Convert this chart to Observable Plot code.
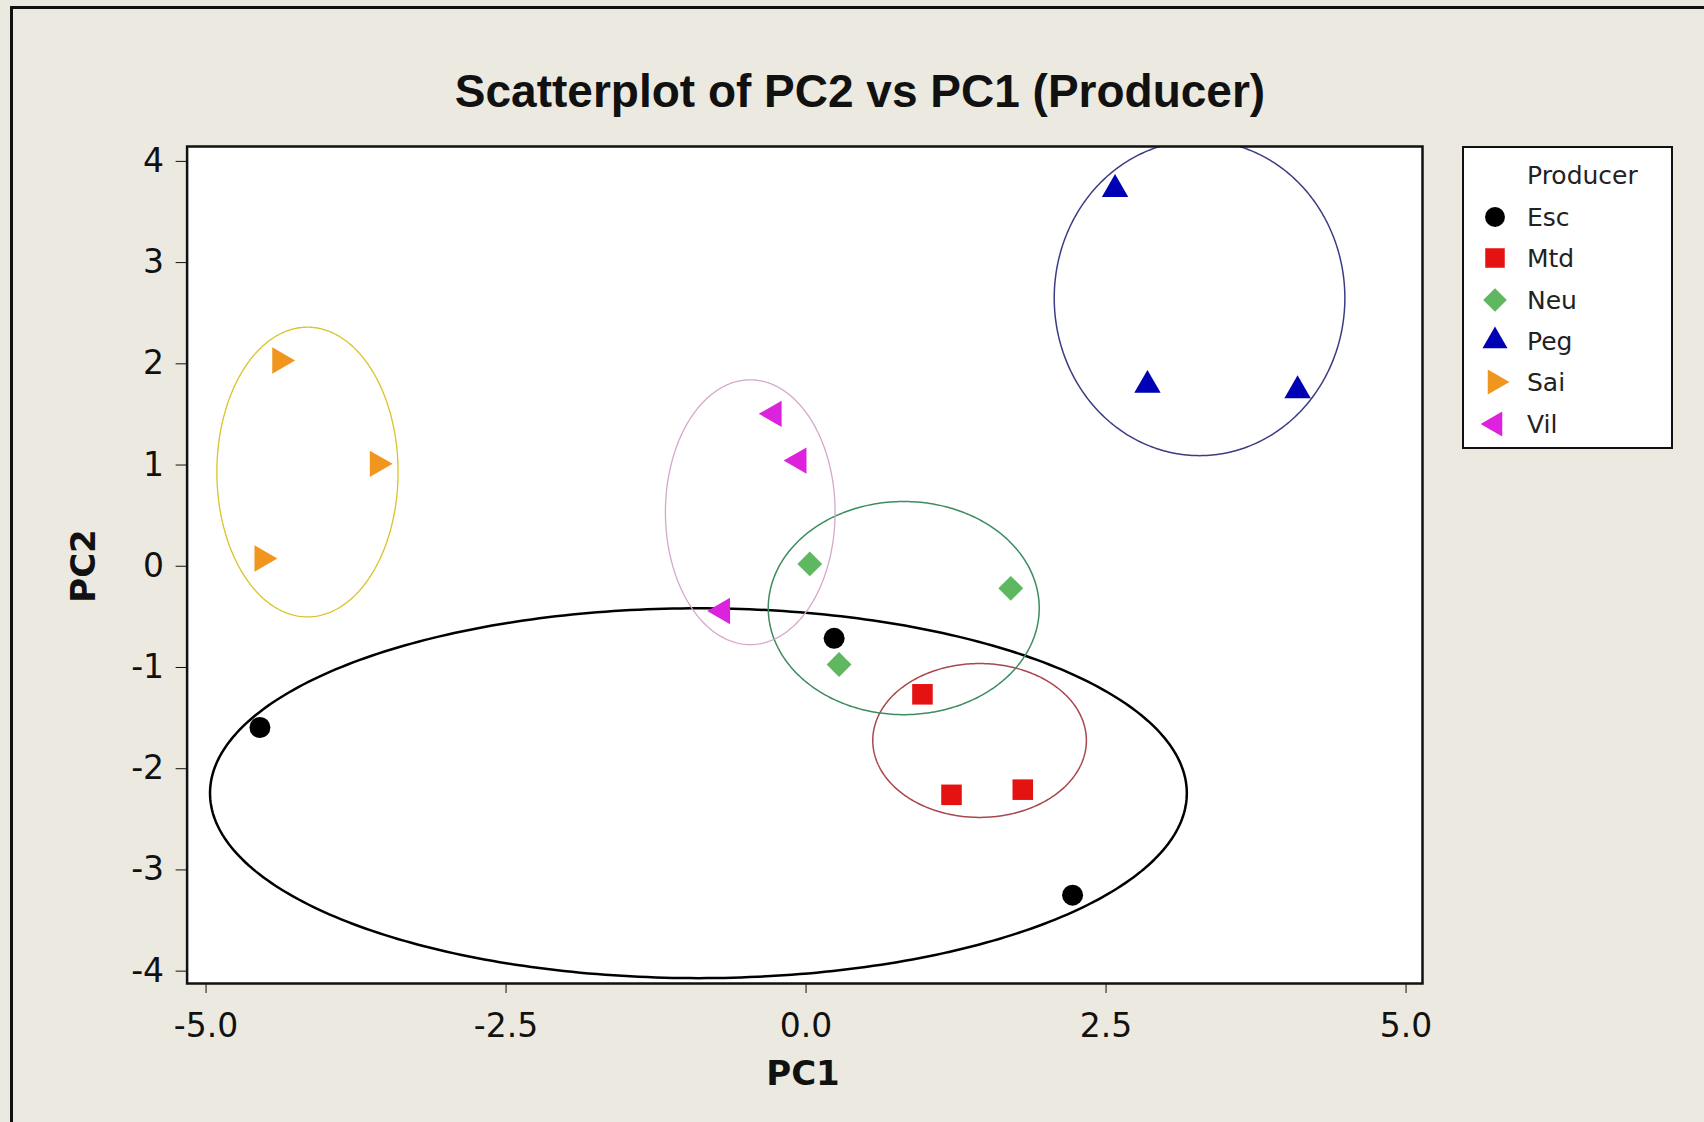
<!DOCTYPE html>
<html>
<head>
<meta charset="utf-8">
<script src="https://cdn.jsdelivr.net/npm/d3@7"></script>
<script src="https://cdn.jsdelivr.net/npm/@observablehq/plot@0.6"></script>
<style>
html, body { margin: 0; padding: 0; background: #ECE9E0; }
#wrap { position: relative; width: 1704px; height: 1122px; overflow: hidden; background: #ECE9E0; }
#wrap > svg { position: absolute; left: 0; top: 0; }
.outer { position: absolute; left: 10px; top: 6px; width: 2000px; height: 2000px; border-left: 3px solid #111; border-top: 3px solid #111; }
.title { position: absolute; left: 0; top: 68px; width: 1720px; text-align: center; font: bold 46px/46px "Liberation Sans", Arial, sans-serif; color: #111; white-space: nowrap; }
.xlabel { position: absolute; left: 603px; top: 1056px; width: 400px; text-align: center; font: bold 34px/34px "DejaVu Sans", sans-serif; color: #111; }
.ylabel { position: absolute; left: -17.5px; top: 549px; width: 200px; text-align: center; font: bold 34px/34px "DejaVu Sans", sans-serif; color: #111; transform: rotate(-90deg); transform-origin: 100px 17px; }
.legend { position: absolute; left: 1462px; top: 146px; width: 207px; height: 299px; border: 2px solid #111; background: #fff; }
.legend .head, .legend .lab { position: absolute; font: 25px/25px "DejaVu Sans", sans-serif; color: #222; white-space: nowrap; }
.legend svg { position: absolute; }
</style>
</head>
<body>
<div id="wrap"></div>
<script>
// ---- data ----
const producers = ["Esc", "Mtd", "Neu", "Peg", "Sai", "Vil"];

const pointProducer = ["Esc", "Esc", "Esc", "Mtd", "Mtd", "Mtd", "Neu", "Neu", "Neu",
                       "Peg", "Peg", "Peg", "Sai", "Sai", "Sai", "Vil", "Vil", "Vil"];
const pointPC1 = [-4.551, 0.234, 2.221, 0.970, 1.212, 1.806, 0.031, 1.706, 0.275,
                  2.575, 2.845, 4.096, -4.385, -3.572, -4.533, -0.267, -0.060, -0.697];
const pointPC2 = [-1.593, -0.712, -3.249, -1.265, -2.258, -2.207, 0.023, -0.218, -0.971,
                  3.724, 1.789, 1.736, 2.033, 1.012, 0.076, 1.506, 1.044, -0.442];

// group ellipses (centre and semi-axes in PC units)
const ellipseCX = [-0.897, 1.446, 0.814, 3.279, -4.155, -0.465];
const ellipseCY = [-2.242, -1.721, -0.413, 2.650, 0.931, 0.534];
const ellipseRX = [4.070, 0.890, 1.129, 1.211, 0.755, 0.707];
const ellipseRY = [1.827, 0.760, 1.053, 1.557, 1.431, 1.308];

const xTicks = [-5, -2.5, 0, 2.5, 5];
const yTicks = [-4, -3, -2, -1, 0, 1, 2, 3, 4];

// ---- styles ----
const pointColor = ["#000000", "#E51212", "#5FB85F", "#0000B4", "#F0961E", "#DD22DD"];
const pointSymbol = ["circle", "square", "diamond2", "triangle", "triangle", "triangle"];
const pointRotate = [0, 0, 0, 0, 90, -90];
const pointR = [10.5, 11.6, 11.2, 9.8, 9.8, 9.8];
const ellipseColor = ["#000000", "#A8484C", "#3C8C60", "#3C3C84", "#D8C428", "#D4A8CC"];
const ellipseWidth = [2.5, 1.5, 1.5, 1.5, 1.3, 1.3];

const points = pointProducer.map((p, i) => ({producer: p, pc1: pointPC1[i], pc2: pointPC2[i]}));

const angles = d3.range(0, 361, 1).map(a => a * Math.PI / 180);
const ellipses = producers.map((p, k) => angles.map(t => ({
  producer: p,
  pc1: ellipseCX[k] + ellipseRX[k] * Math.cos(t),
  pc2: ellipseCY[k] + ellipseRY[k] * Math.sin(t)
})));

const marks = [Plot.frame({fill: "white", stroke: null})];
producers.forEach((p, k) => {
  marks.push(Plot.line(ellipses[k], {x: "pc1", y: "pc2", stroke: ellipseColor[k], strokeWidth: ellipseWidth[k], clip: true}));
});
producers.forEach((p, k) => {
  marks.push(Plot.dot(points.filter(d => d.producer === p), {
    x: "pc1", y: "pc2", symbol: pointSymbol[k], r: pointR[k], rotate: pointRotate[k],
    fill: pointColor[k], stroke: "none"
  }));
});
marks.push(Plot.frame({stroke: "#111", strokeWidth: 2.5}));

const chart = Plot.plot({
  width: 1704,
  height: 1122,
  marginLeft: 186.6,
  marginRight: 1704 - 1422,
  marginTop: 146,
  marginBottom: 1122 - 983,
  style: {background: "transparent", fontFamily: "DejaVu Sans", fontSize: "33px", color: "#111", overflow: "visible"},
  x: {domain: [-5.158, 5.137], ticks: xTicks, tickFormat: d => d.toFixed(1), tickSize: 10, tickPadding: 20, label: null},
  y: {domain: [-4.122, 4.147], ticks: yTicks, tickFormat: d => String(d), tickSize: 11, tickPadding: 12, label: null},
  marks
});

const wrap = document.getElementById("wrap");
wrap.appendChild(chart);

const outer = document.createElement("div"); outer.className = "outer"; wrap.appendChild(outer);
const title = document.createElement("div"); title.className = "title";
title.textContent = "Scatterplot of PC2 vs PC1 (Producer)"; wrap.appendChild(title);
const xl = document.createElement("div"); xl.className = "xlabel"; xl.textContent = "PC1"; wrap.appendChild(xl);
const yl = document.createElement("div"); yl.className = "ylabel"; yl.textContent = "PC2"; wrap.appendChild(yl);

// legend
const legend = d3.select(wrap).append("div").attr("class", "legend");
legend.append("div").attr("class", "head").style("left", "63px").style("top", "15px").text("Producer");
const symbolType = {circle: d3.symbolCircle, square: d3.symbolSquare, diamond2: d3.symbolDiamond2, triangle: d3.symbolTriangle};
producers.forEach((p, k) => {
  const cy = 68.7 + 41.4 * k; // relative to legend inner top
  const s = legend.append("svg").attr("width", 32).attr("height", 32)
    .style("left", (31 - 16) + "px").style("top", (cy - 16) + "px");
  s.append("path")
    .attr("transform", `translate(16,16) rotate(${pointRotate[k]})`)
    .attr("d", d3.symbol().type(symbolType[pointSymbol[k]]).size(Math.PI * pointR[k] * pointR[k] * 0.9)())
    .attr("fill", pointColor[k]);
  legend.append("div").attr("class", "lab").style("left", "63px").style("top", (cy - 12) + "px").text(p);
});
</script>
</body>
</html>
